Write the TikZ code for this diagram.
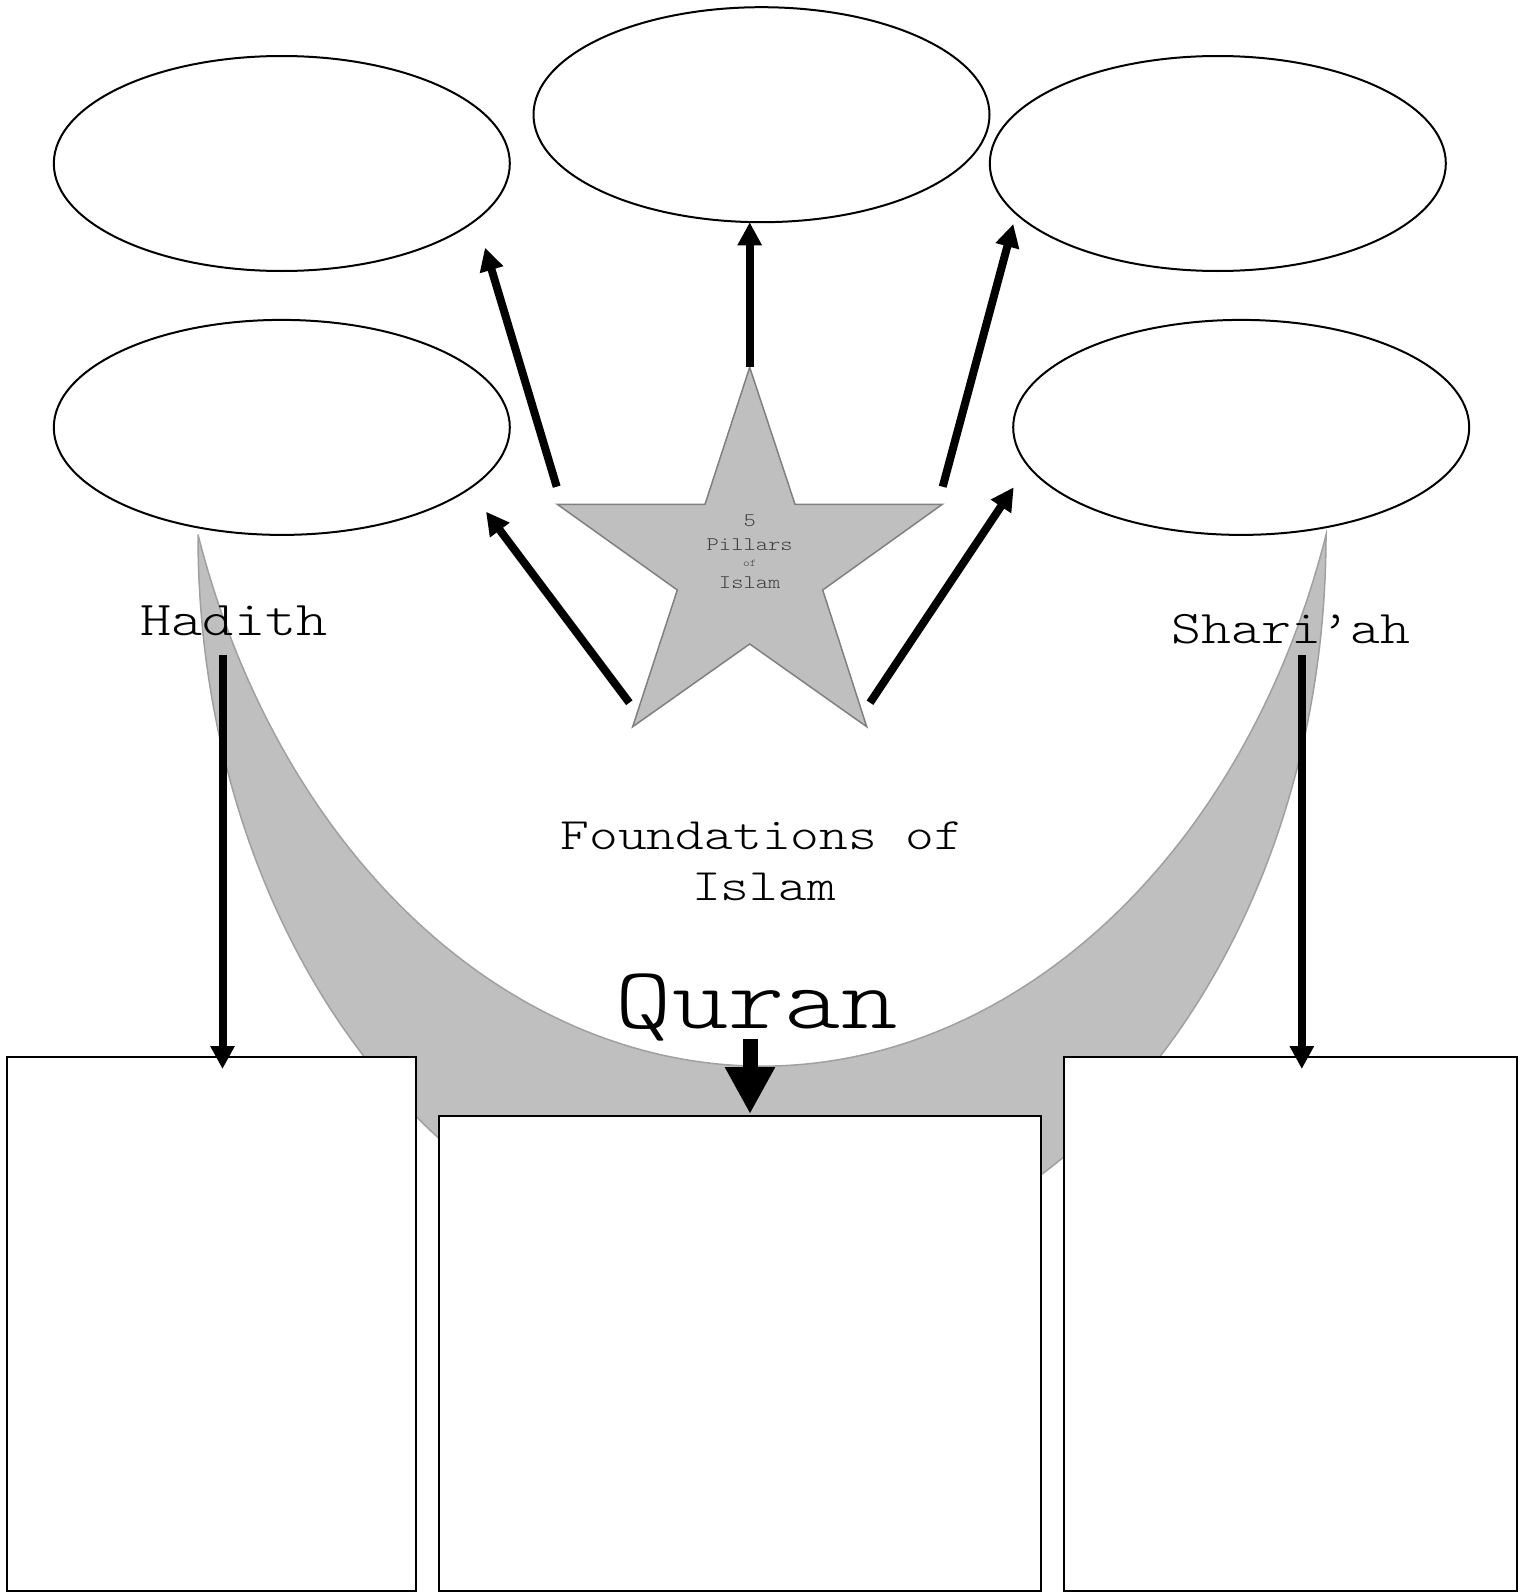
\documentclass[tikz,border=0pt]{standalone}
\usepackage{fontspec}
\newfontfamily\cour[FakeStretch=1.22]{lmmonolt10-regular.otf}
\usetikzlibrary{arrows.meta,shapes.geometric}
\definecolor{moonfill}{HTML}{BFBFBF}
\definecolor{moonline}{HTML}{A0A0A0}
\definecolor{starline}{HTML}{808080}
\definecolor{startext}{HTML}{404040}
\begin{document}
\begin{tikzpicture}[x=1pt,y=-1pt,
  oval/.style={ellipse, draw=black, line width=2pt, fill=white, minimum width=456pt, minimum height=215pt, inner sep=0pt},
  panel/.style={draw=black, line width=2.2pt, fill=white, anchor=north west, inner sep=0pt},
  link/.style={line width=8pt, -{Triangle[length=23pt,width=23pt]}},
  biglink/.style={line width=15pt, -{Triangle[length=47pt,width=47pt]}},
  txt/.style={anchor=base, inner sep=0pt, text=black}
]
\fill[white] (0,0) rectangle (1530,1592);
\useasboundingbox (0,0) rectangle (1530,1592);

% crescent
\draw[fill=moonfill, draw=moonline, line width=1.5pt]
  (198,535) arc[start angle=180, end angle=360, x radius=564pt, y radius=736pt]
  arc[start angle=-18.38, end angle=-161.62, x radius=594.3pt, y radius=775.5pt] -- cycle;

% ellipses
\node[oval] (e1) at (281.8,163.5) {};
\node[oval] (e2) at (761.5,114.7) {};
\node[oval] (e3) at (1217.8,163.5) {};
\node[oval] (e4) at (281.8,427.4) {};
\node[oval] (e5) at (1241.2,427.4) {};

% star
\draw[fill=moonfill, draw=starline, line width=1.5pt]
  (749.7,367.3) -- (795,504.3) -- (942.3,504.3) -- (822.7,590) -- (866.7,726.7)
  -- (749.7,644) -- (632.7,726.7) -- (677.3,590) -- (557.3,504.3) -- (705,504.3) -- cycle;
\node[txt, text=startext, font=\cour\fontsize{19.2}{24}\selectfont] (s5) at (749.7,526) {5};
\node[txt, text=startext, font=\cour\fontsize{19.2}{24}\selectfont] (spil) at (749.7,550) {Pillars};
\node[txt, text=startext, font=\cour\fontsize{10.3}{13}\selectfont] (sof) at (749.7,566.7) {of};
\node[txt, text=startext, font=\cour\fontsize{19.2}{24}\selectfont] (sisl) at (749.7,588.3) {Islam};

% boxes
\node[panel, minimum width=409pt, minimum height=534pt] (hbox) at (6,1056) {};
\node[panel, minimum width=602pt, minimum height=475pt] (qbox) at (438,1115) {};
\node[panel, minimum width=453pt, minimum height=534pt] (sbox) at (1063,1056) {};

% texts
\node[txt, font=\cour\fontsize{48.6}{56}\selectfont] (hadith) at (234,635) {Hadith};
\node[txt, font=\cour\fontsize{46.8}{54}\selectfont] (shariah) at (1291,643.3) {Shari’ah};
\node[txt, font=\cour\fontsize{44.9}{51}\selectfont] (fnd1) at (762,849.3) {Foundations of};
\node[txt, font=\cour\fontsize{44.9}{51}\selectfont] (fnd2) at (764,900) {Islam};
\node[txt, font=\cour\fontsize{87.9}{100}\selectfont] (quran) at (756.7,1028) {Quran};

% arrow end points
\coordinate (a1s) at (556.7,486.7); \coordinate (a1e) at (485,247.7);
\coordinate (a2s) at (749.7,366.7); \coordinate (a2e) at (749.7,222.3);
\coordinate (a3s) at (942.7,486.7); \coordinate (a3e) at (1013.3,224);
\coordinate (a4s) at (629.3,702.7); \coordinate (a4e) at (486,511.7);
\coordinate (a5s) at (870,702.7);   \coordinate (a5e) at (1013.7,487.3);
\coordinate (hs) at (222.5,655);    \coordinate (he) at (222.5,1069);
\coordinate (ss) at (1301.8,655);   \coordinate (se) at (1301.8,1069);
\coordinate (qs) at (750,1039);     \coordinate (qe) at (750,1114);

\draw[link] (a1s) -- (a1e);
\draw[link] (a2s) -- (a2e);
\draw[link] (a3s) -- (a3e);
\draw[link] (a4s) -- (a4e);
\draw[link] (a5s) -- (a5e);
\draw[link] (hs) -- (he);
\draw[link] (ss) -- (se);
\draw[biglink] (qs) -- (qe);
\end{tikzpicture}
\end{document}
